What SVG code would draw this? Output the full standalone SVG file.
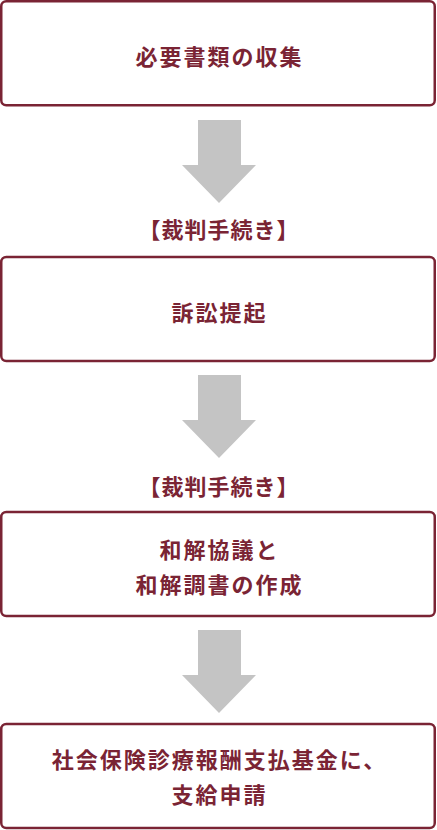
<svg xmlns="http://www.w3.org/2000/svg" width="437" height="830" viewBox="0 0 437 830">
<style>
.box{fill:#ffffff;stroke:#7a2434;stroke-width:2.5}
.t{font-family:"Noto Sans CJK JP","Noto Sans CJK SC",sans-serif;font-weight:700;font-size:22px;fill:#7a2434;text-anchor:middle;letter-spacing:2px}
.lbl{font-family:"Noto Sans CJK JP","Noto Sans CJK SC",sans-serif;font-weight:700;font-size:22px;fill:#7a2434;text-anchor:middle;letter-spacing:1px}
.arr{fill:#c4c4c4}
</style>
<rect width="437" height="830" fill="#ffffff"/>
<g id="connectors">
<polygon class="arr" points="198,120 241,120 241,165 256,165 219,203 182,165 198,165"/>
<polygon class="arr" points="198,375 241,375 241,420 256,420 219,458 182,420 198,420"/>
<polygon class="arr" points="198,630 241,630 241,675 256,675 219,713 182,675 198,675"/>
</g>
<g id="node1">
<rect class="box" x="1.25" y="1.25" width="433.5" height="104" rx="5"/>
<text class="t" x="219.5" y="65">必要書類の収集</text>
</g>
<g id="label1">
<text class="lbl" x="219" y="238">【裁判手続き】</text>
</g>
<g id="node2">
<rect class="box" x="1.25" y="257" width="433.5" height="104" rx="5"/>
<text class="t" x="219.5" y="321">訴訟提起</text>
</g>
<g id="label2">
<text class="lbl" x="219" y="495">【裁判手続き】</text>
</g>
<g id="node3">
<rect class="box" x="1.25" y="512" width="433.5" height="104" rx="5"/>
<text class="t" x="219.5" y="558">和解協議と</text>
<text class="t" x="219.5" y="593">和解調書の作成</text>
</g>
<g id="node4">
<rect class="box" x="1.25" y="724" width="433.5" height="104" rx="5"/>
<text class="t" x="219.5" y="768">社会保険診療報酬支払基金に、</text>
<text class="t" x="219.5" y="803">支給申請</text>
</g>
</svg>
